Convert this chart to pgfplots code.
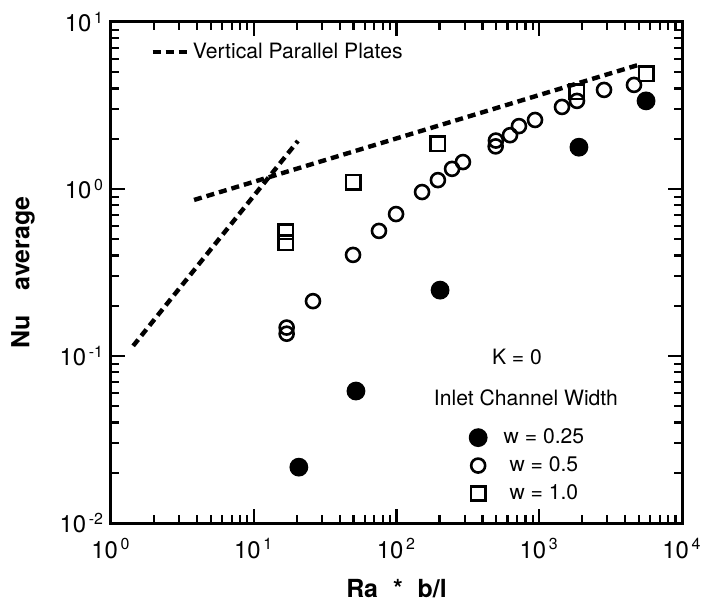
\documentclass[border=0pt]{standalone}
\usepackage{fontspec}
\setmainfont{TeX Gyre Heros}
\usepackage{pgfplots}
\pgfplotsset{compat=1.18}

\begin{document}
\begin{tikzpicture}
\begin{axis}[
  xmode=log, ymode=log,
  scale only axis, width=285.5bp, height=250.5bp,
  xmin=1, xmax=10000, ymin=0.01, ymax=10,
  axis line style={line width=1.5bp},
  xtick style={draw=black, line width=1.1bp},
  ytick style={draw=black, line width=1.1bp},
  major tick length=7bp, minor tick length=4bp,
  tick align=inside, tick pos=both,
  xtick={1,10,100,1000,10000},
  minor xtick={2,3,4,5,6,7,8,9,20,30,40,50,60,70,80,90,200,300,400,500,600,700,800,900,2000,3000,4000,5000,6000,7000,8000,9000},
  xticklabels={10\textsuperscript{\,0},10\textsuperscript{\,1},10\textsuperscript{\,2},10\textsuperscript{\,3},10\textsuperscript{\,4}},
  ytick={0.01,0.1,1,10},
  minor ytick={0.02,0.03,0.04,0.05,0.06,0.07,0.08,0.09,0.2,0.3,0.4,0.5,0.6,0.7,0.8,0.9,2,3,4,5,6,7,8,9},
  yticklabels={10\textsuperscript{\,-2},10\textsuperscript{\,-1},10\textsuperscript{\,0},10\textsuperscript{\,1}},
  tick label style={font=\fontsize{12}{14}\selectfont},
  x tick label style={anchor=north, yshift=-4bp},
  xlabel={Ra\hspace{0.6em}*\hspace{0.6em}b/l},
  ylabel={Nu\hspace{1em}average},
  label style={font=\fontsize{12.5}{15}\selectfont\bfseries},
  xlabel style={at={(axis description cs:0.5,-0.13)},anchor=center},
  ylabel style={at={(axis description cs:-0.154,0.5)},anchor=center},
  legend style={draw=none, fill=none, at={(axis description cs:0.058,0.94)}, anchor=west, font=\fontsize{10.6}{12}\selectfont},
]
\addplot[black, line width=2.2bp, dash pattern=on 4bp off 2.5bp] coordinates {(3.82,0.86) (5000,5.55)};
\addlegendentry{Vertical Parallel Plates}
\addplot[black, line width=2.2bp, dash pattern=on 4bp off 2.5bp, forget plot] coordinates {(1.43,0.115) (20.4,1.94)};
\node[font=\fontsize{10.6}{12}\selectfont] at (axis cs:698,0.0986) {K = 0};
\node[font=\fontsize{10.6}{12}\selectfont] at (axis cs:807,0.0561) {Inlet Channel Width};
\coordinate (sw) at (rel axis cs:0,0);
\coordinate (ne) at (rel axis cs:1,1);
\end{axis}
\begin{axis}[
  xmode=log, ymode=log,
  scale only axis, width=285.5bp, height=250.5bp,
  xmin=1, xmax=10000, ymin=0.01, ymax=10,
  hide axis,
  legend image code/.code={\path[draw=none] (0cm,0cm) -- (0.58cm,0cm); \draw[#1] plot coordinates {(0.2cm,0cm)};},
  legend style={draw=none, fill=none, at={(axis description cs:0.612,0.205)}, anchor=north west, font=\fontsize{10.6}{12}\selectfont, row sep=1bp},
]
\addplot[only marks, mark=*, mark size=4.2bp, black, mark options={line width=1bp, fill=black}] coordinates {
 (20.7,0.0216) (52,0.0617) (202,0.248) (1897,1.78) (5600,3.37)};
\addlegendentry{w = 0.25}
\addplot[only marks, mark=o, mark size=3.5bp, black, mark options={line width=1.3bp}] coordinates {
 (17,0.148) (17,0.136) (26,0.213) (49.6,0.403) (75.4,0.561) (99.3,0.708) (151,0.959) (195,1.13) (245,1.32) (292,1.45) (495,1.80) (497,1.95) (624,2.10) (721,2.38) (934,2.59) (1443,3.10) (1838,3.37) (2843,3.92) (4610,4.20)};
\addlegendentry{w = 0.5}
\addplot[only marks, mark=square, mark size=3.6bp, black, mark options={line width=1.3bp}] coordinates {
 (16.8,0.553) (16.8,0.475) (49.6,1.10) (195,1.86) (1838,3.81) (5600,4.89)};
\addlegendentry{w = 1.0}
\end{axis}
\pgfresetboundingbox
\path ([shift={(-55.5bp,-38.5bp)}]sw) rectangle ([shift={(14bp,11bp)}]ne);
\end{tikzpicture}
\end{document}
